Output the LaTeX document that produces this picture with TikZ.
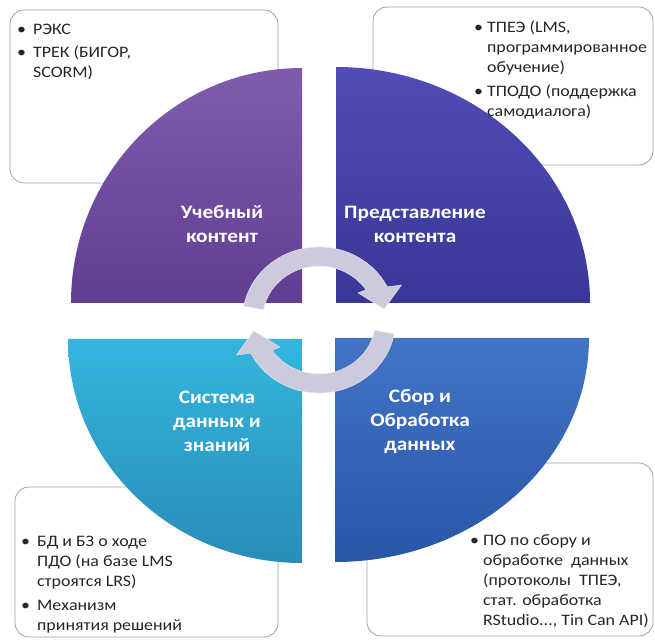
\documentclass[tikz,border=0pt]{standalone}
\usepackage{fontspec}
\setmainfont[FakeStretch=1.12]{Carlito}
\usetikzlibrary{calc}

\definecolor{purpleTop}{RGB}{128,92,174}
\definecolor{purpleBot}{RGB}{96,62,146}
\definecolor{indigoTop}{RGB}{80,78,182}
\definecolor{indigoBot}{RGB}{56,54,150}
\definecolor{tealTop}{RGB}{52,182,222}
\definecolor{tealBot}{RGB}{40,140,184}
\definecolor{blueTop}{RGB}{66,116,198}
\definecolor{blueBot}{RGB}{42,86,166}
\definecolor{cycleGray}{RGB}{204,202,220}
\definecolor{boxLine}{RGB}{150,162,172}
\definecolor{bodyText}{RGB}{38,38,38}

\begin{document}
\begin{tikzpicture}[
    x=1pt, y=1pt,
    infobox/.style={draw=boxLine, line width=0.8pt, fill=white, rounded corners=14pt},
    bullets/.style={inner sep=0pt, anchor=base west, text=bodyText,
                    font=\fontsize{16}{20}\selectfont},
    sectortext/.style={align=center, text=white, inner sep=0pt,
                       font=\bfseries\fontsize{19}{24}\selectfont},
    cyclearrow/.style={fill=cycleGray, draw=white!85!gray, line width=0.4pt},
]

\useasboundingbox (0,0) rectangle (655,640);

% =============================================================================
% Frames behind the quarters
% =============================================================================
\draw[infobox] (10,457) rectangle (278,630);
\draw[infobox] (373,475) rectangle (653,633);
\draw[infobox] (15,3) rectangle (278,153);
\draw[infobox] (367,4) rectangle (653,177);

% =============================================================================
% Four quarters
% =============================================================================
% --- Top left ---
\shade[top color=purpleTop, bottom color=purpleBot]
    (302,337) -- (71,337) arc[start angle=180, end angle=90, x radius=231, y radius=235] -- cycle;
% --- Top right ---
\shade[top color=indigoTop, bottom color=indigoBot]
    (336,337) -- (336,573) arc[start angle=90, end angle=0, x radius=254, y radius=236] -- cycle;
% --- Bottom left ---
\shade[top color=tealTop, bottom color=tealBot]
    (302,301) -- (68,301) arc[start angle=180, end angle=270, x radius=234, y radius=224] -- cycle;
% --- Bottom right ---
\shade[top color=blueTop, bottom color=blueBot]
    (335,302) -- (589,302) arc[start angle=0, end angle=-90, x radius=254, y radius=224] -- cycle;

\node[sectortext] (content) at (222,416) {Учебный\\контент};
\node[sectortext] (delivery) at (415,416) {Представление\\контента};
\node[sectortext] (knowledge) at (217,219) {Система\\данных и\\знаний};
\node[sectortext] (processing) at (420,219) {Сбор и\\Обработка\\данных};

% =============================================================================
% Cycle arrows
% =============================================================================
\begin{scope}[shift={(319,320)}, xscale=1.05]
    \foreach \rot in {0,180}
        \filldraw[cyclearrow, rotate=\rot]
            (169:73) arc[start angle=169, end angle=27, radius=73]
            -- (24:86) -- (10:63) -- (36:46) -- (34:54)
            arc[start angle=34, end angle=169, radius=54] -- cycle;
\end{scope}

% =============================================================================
% Lists
% =============================================================================
\node[bullets] (contentlist) at (17,605) {\begin{tabular}[t]{@{}l@{\hspace{7pt}}l@{}}
    • & РЭКС\\[3pt]
    • & ТРЕК (БИГОР,\\
      & SCORM)
\end{tabular}};

\node[bullets] (deliverylist) at (474,607) {\begin{tabular}[t]{@{}l@{\hspace{4pt}}l@{}}
    • & ТПЕЭ (LMS,\\
      & программированное\\
      & обучение)\\[4pt]
    • & ТПОДО (поддержка\\
      & самодиалога)
\end{tabular}};

\node[bullets] (knowledgelist) at (21,94) {\begin{tabular}[t]{@{}l@{\hspace{7pt}}l@{}}
    • & БД и БЗ о ходе\\
      & ПДО (на базе LMS\\
      & строятся LRS)\\[4pt]
    • & Механизм\\
      & принятия решений
\end{tabular}};

\node[bullets] (processinglist) at (470,95) {\begin{tabular}[t]{@{}l@{\hspace{4pt}}l@{}}
    • & ПО по сбору и\\
      & обработке~ данных\\
      & (протоколы~ ТПЕЭ,\\
      & стат. обработка\\
      & RStudio..., Tin Can API)
\end{tabular}};

\end{tikzpicture}
\end{document}
